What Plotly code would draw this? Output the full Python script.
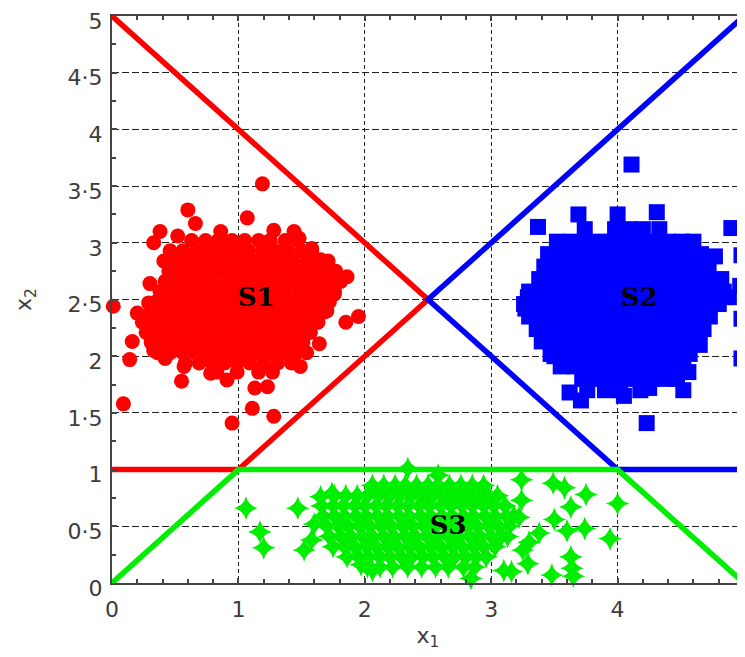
import plotly.graph_objects as go

# ---------------- data ----------------
x_ticks = [0, 1, 2, 3, 4, 5]
x_tick_text = ["0", "1", "2", "3", "4", "5"]
y_ticks = [0, 0.5, 1, 1.5, 2, 2.5, 3, 3.5, 4, 4.5, 5]
y_tick_text = ["0", "0·5", "1", "1·5", "2", "2·5", "3", "3·5", "4", "4·5", "5"]

# decision boundaries (vertices of each class border)
red_line_x = [0, 2.5, 1, 0]
red_line_y = [5, 2.5, 1, 1]
blue_line_x = [5, 2.5, 4, 5]
blue_line_y = [5, 2.5, 1, 1]
green_line_x = [0, 1, 4, 5]
green_line_y = [0, 1, 1, 0]

# class S1 (red circles): scattered outliers
red_outliers = [(1.19, 3.52), (0.60, 3.29), (0.66, 3.17), (1.07, 3.22), (0.01, 2.44), (0.16, 2.13),
                (0.14, 1.97), (0.09, 1.58), (0.55, 1.78), (0.95, 1.41), (1.11, 1.54), (1.28, 1.47),
                (1.23, 1.73), (1.13, 1.72), (1.64, 2.11), (1.95, 2.35), (1.85, 2.30), (1.86, 2.70),
                (0.30, 2.64), (0.20, 2.38), (0.29, 2.47), (0.86, 3.10), (0.38, 3.10), (0.33, 3.00),
                (1.44, 3.10), (1.48, 3.04), (1.28, 3.11), (1.76, 2.55), (1.65, 2.85), (1.49, 1.91),
                (0.91, 1.79), (0.30, 2.19), (0.33, 2.05), (0.78, 1.85), (0.57, 1.91), (0.24, 2.30),
                (0.52, 3.06), (1.58, 2.95), (1.70, 2.40), (0.42, 1.98)]
# dense core of S1, row by row: (y, [x...])
red_core = [
    (3.02, [0.63, 0.74, 0.84, 0.95, 1.05, 1.16, 1.25, 1.37, 1.47]),
    (2.93, [0.46, 0.56, 0.67, 0.77, 0.88, 0.98, 1.08, 1.19, 1.29, 1.39, 1.50, 1.58]),
    (2.84, [0.41, 0.51, 0.61, 0.72, 0.82, 0.92, 1.03, 1.13, 1.23, 1.33, 1.43, 1.54, 1.63, 1.71]),
    (2.75, [0.45, 0.56, 0.66, 0.76, 0.87, 0.97, 1.07, 1.17, 1.28, 1.38, 1.48, 1.58, 1.68, 1.77]),
    (2.66, [0.42, 0.52, 0.62, 0.71, 0.81, 0.92, 1.02, 1.12, 1.22, 1.33, 1.43, 1.53, 1.63, 1.73, 1.81]),
    (2.57, [0.38, 0.47, 0.57, 0.67, 0.77, 0.87, 0.97, 1.07, 1.17, 1.27, 1.37, 1.48, 1.58, 1.68, 1.76]),
    (2.48, [0.35, 0.44, 0.53, 0.63, 0.73, 0.83, 0.93, 1.03, 1.13, 1.23, 1.33, 1.43, 1.53, 1.63, 1.72]),
    (2.39, [0.31, 0.40, 0.49, 0.59, 0.69, 0.79, 0.89, 0.99, 1.09, 1.19, 1.29, 1.39, 1.49, 1.59, 1.68]),
    (2.30, [0.28, 0.36, 0.45, 0.55, 0.65, 0.75, 0.85, 0.95, 1.05, 1.15, 1.25, 1.35, 1.45, 1.55, 1.63]),
    (2.21, [0.27, 0.37, 0.47, 0.57, 0.67, 0.77, 0.87, 0.97, 1.07, 1.17, 1.27, 1.37, 1.47, 1.57]),
    (2.12, [0.31, 0.41, 0.51, 0.61, 0.71, 0.81, 0.91, 1.01, 1.11, 1.21, 1.31, 1.41, 1.51]),
    (2.03, [0.36, 0.46, 0.56, 0.66, 0.76, 0.86, 0.96, 1.06, 1.16, 1.26, 1.36, 1.46, 1.54]),
    (1.94, [0.58, 0.69, 0.79, 0.89, 0.99, 1.09, 1.20, 1.31, 1.42]),
    (1.86, [0.83, 0.99, 1.16, 1.27]),
]

# class S2 (blue squares)
blue_outliers = [(4.11, 3.69), (3.37, 3.14), (4.90, 3.13), (4.98, 2.89), (4.98, 2.33), (4.98, 1.98),
                 (4.52, 1.70), (4.23, 1.41), (3.71, 1.61), (4.56, 1.86), (3.29, 2.52), (3.27, 2.42),
                 (4.77, 2.88), (4.88, 2.52), (4.65, 2.10), (3.50, 2.00), (3.69, 3.25), (4.00, 3.25),
                 (4.31, 3.27), (3.62, 1.68), (4.05, 1.65), (4.25, 1.72), (4.97, 2.62)]
blue_core = [
    (3.12, [3.74, 3.98, 4.09, 4.20, 4.33]),
    (3.01, [3.52, 3.63, 3.74, 3.85, 3.96, 4.07, 4.18, 4.29, 4.40, 4.51, 4.60]),
    (2.90, [3.45, 3.56, 3.67, 3.78, 3.89, 4.00, 4.11, 4.22, 4.33, 4.44, 4.55, 4.66]),
    (2.79, [3.42, 3.53, 3.64, 3.75, 3.86, 3.97, 4.08, 4.19, 4.30, 4.41, 4.52, 4.63, 4.72]),
    (2.68, [3.38, 3.49, 3.60, 3.71, 3.82, 3.93, 4.04, 4.15, 4.26, 4.37, 4.48, 4.59, 4.70, 4.82]),
    (2.57, [3.30, 3.41, 3.52, 3.63, 3.74, 3.85, 3.96, 4.07, 4.18, 4.29, 4.40, 4.51, 4.62, 4.73, 4.84]),
    (2.46, [3.26, 3.37, 3.48, 3.59, 3.70, 3.81, 3.92, 4.03, 4.14, 4.25, 4.36, 4.47, 4.58, 4.69, 4.80]),
    (2.35, [3.30, 3.41, 3.52, 3.63, 3.74, 3.85, 3.96, 4.07, 4.18, 4.29, 4.40, 4.51, 4.62, 4.73]),
    (2.24, [3.36, 3.47, 3.58, 3.69, 3.80, 3.91, 4.02, 4.13, 4.24, 4.35, 4.46, 4.57, 4.68]),
    (2.13, [3.40, 3.51, 3.62, 3.73, 3.84, 3.95, 4.06, 4.17, 4.28, 4.39, 4.50, 4.61]),
    (2.02, [3.47, 3.58, 3.69, 3.80, 3.91, 4.02, 4.13, 4.24, 4.35, 4.46, 4.57]),
    (1.91, [3.55, 3.66, 3.77, 3.88, 3.99, 4.10, 4.21, 4.32, 4.43, 4.52]),
    (1.80, [3.72, 3.83, 3.94, 4.05, 4.16, 4.27, 4.38, 4.47]),
    (1.70, [3.76, 3.90, 4.02, 4.18]),
]

# class S3 (green stars)
green_outliers = [(1.06, 0.66), (1.47, 0.66), (1.17, 0.45), (1.20, 0.31), (1.52, 0.29), (3.49, 0.88),
                  (3.63, 0.67), (3.74, 0.48), (3.94, 0.39), (4.00, 0.70), (3.63, 0.23), (3.64, 0.13),
                  (3.48, 0.07), (2.84, 0.04), (2.34, 1.01), (3.24, 0.91), (3.38, 0.44), (3.50, 0.56),
                  (3.25, 0.29), (3.60, 0.46), (3.29, 0.17), (3.10, 0.11), (1.97, 0.16), (2.06, 0.11),
                  (1.65, 0.76), (1.74, 0.79), (3.16, 0.10), (3.65, 0.06), (3.58, 0.84), (3.24, 0.73),
                  (3.75, 0.78), (1.60, 0.52), (1.58, 0.38), (3.22, 0.58), (3.30, 0.36), (2.58, 0.95)]
green_core = [
    (0.86, [2.06, 2.15, 2.24, 2.32, 2.41, 2.50, 2.58, 2.67, 2.76, 2.85, 2.94]),
    (0.77, [1.76, 1.85, 1.94, 2.02, 2.11, 2.20, 2.28, 2.37, 2.46, 2.54, 2.63, 2.72, 2.80, 2.89, 2.98, 3.05]),
    (0.68, [1.66, 1.75, 1.83, 1.92, 2.00, 2.09, 2.17, 2.26, 2.34, 2.43, 2.51, 2.60, 2.68, 2.77, 2.85, 2.94, 3.02, 3.11]),
    (0.59, [1.67, 1.76, 1.84, 1.93, 2.01, 2.10, 2.18, 2.27, 2.35, 2.44, 2.52, 2.61, 2.69, 2.78, 2.86, 2.95, 3.03, 3.12, 3.18]),
    (0.50, [1.70, 1.79, 1.87, 1.96, 2.04, 2.13, 2.21, 2.30, 2.38, 2.47, 2.55, 2.64, 2.72, 2.81, 2.89, 2.98, 3.06, 3.14]),
    (0.41, [1.72, 1.81, 1.89, 1.98, 2.06, 2.15, 2.23, 2.32, 2.40, 2.49, 2.57, 2.66, 2.74, 2.83, 2.91, 3.00, 3.08, 3.13]),
    (0.32, [1.75, 1.84, 1.92, 2.01, 2.09, 2.18, 2.26, 2.35, 2.43, 2.52, 2.60, 2.69, 2.77, 2.86, 2.94, 3.03]),
    (0.23, [1.86, 1.95, 2.03, 2.12, 2.20, 2.29, 2.37, 2.46, 2.54, 2.63, 2.71, 2.80, 2.88, 2.96]),
    (0.14, [2.02, 2.12, 2.22, 2.34, 2.45, 2.56, 2.66, 2.78, 2.87]),
]

region_labels = ["S1", "S2", "S3"]
region_label_x = [1.14, 4.17, 2.66]
region_label_y = [2.50, 2.50, 0.49]


def collect(core, outliers):
    xs, ys = [], []
    for y, row in core:
        for x in row:
            xs.append(x)
            ys.append(y)
    for x, y in outliers:
        xs.append(x)
        ys.append(y)
    return xs, ys


RED = "#ff0000"
BLUE = "#0000ff"
GREEN = "#00ee00"
TXT = "#3c3c3c"

fig = go.Figure()

rx, ry = collect(red_core, red_outliers)
bx, by = collect(blue_core, blue_outliers)
gx, gy = collect(green_core, green_outliers)

fig.add_trace(go.Scatter(x=rx, y=ry, mode="markers", cliponaxis=False,
                         marker=dict(symbol="circle", size=15, color=RED, line=dict(width=0))))
fig.add_trace(go.Scatter(x=bx, y=by, mode="markers", cliponaxis=False,
                         marker=dict(symbol="square", size=16, color=BLUE, line=dict(width=0))))
fig.add_trace(go.Scatter(x=gx, y=gy, mode="markers", cliponaxis=False,
                         marker=dict(symbol="star-diamond", size=17, color=GREEN, line=dict(width=0))))

fig.add_trace(go.Scatter(x=red_line_x, y=red_line_y, mode="lines", cliponaxis=False,
                         line=dict(color=RED, width=5.5)))
fig.add_trace(go.Scatter(x=blue_line_x, y=blue_line_y, mode="lines", cliponaxis=False,
                         line=dict(color=BLUE, width=5.5)))
fig.add_trace(go.Scatter(x=green_line_x, y=green_line_y, mode="lines", cliponaxis=False,
                         line=dict(color=GREEN, width=5.5)))

fig.add_trace(go.Scatter(x=region_label_x, y=region_label_y, mode="text", text=region_labels,
                         cliponaxis=False,
                         textfont=dict(family="DejaVu Serif", size=26, color="#000000", weight="bold")))

axis_common = dict(
    range=[0, 5], showline=True, linecolor="#444444", linewidth=2, mirror="allticks",
    ticks="inside", ticklen=5, tickwidth=1.5, tickcolor="#444444",
    showgrid=True, gridcolor="#222222", gridwidth=1.2,
    zeroline=False, fixedrange=True, automargin=False, ticklabeloverflow="allow",
    tickfont=dict(family="DejaVu Sans", size=22, color=TXT),
)

fig.update_xaxes(**axis_common, tickvals=x_ticks, ticktext=x_tick_text, griddash="4px,3px",
                 minor=dict(dtick=0.2, ticks="inside", ticklen=4, tickcolor="#444444", showgrid=False),
                 ticklabelstandoff=6,
                 title=dict(text="x<sub>1</sub>", font=dict(family="DejaVu Sans", size=22, color=TXT),
                            standoff=6))
fig.update_yaxes(**axis_common, tickvals=y_ticks, ticktext=y_tick_text, griddash="7px,3px",
                 minor=dict(dtick=0.25, ticks="inside", ticklen=4, tickcolor="#444444", showgrid=False),
                 ticklabelstandoff=3, ticklabelshift=5,
                 title=dict(text="x<sub>2</sub>", font=dict(family="DejaVu Sans", size=22, color=TXT),
                            standoff=30))

# the page body adds an 8px offset, so the margins are reduced by that amount
fig.update_layout(
    width=745, height=657,
    margin=dict(l=104, r=9, t=8, b=82),
    paper_bgcolor="white", plot_bgcolor="white",
    showlegend=False,
)

fig.write_html("out.html")
